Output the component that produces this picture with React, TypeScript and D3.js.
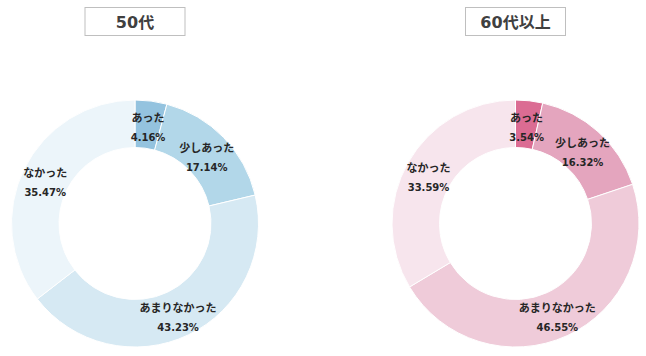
import React from "react";
import * as d3 from "d3";

const categories = ["あった", "少しあった", "あまりなかった", "なかった"];
const titles = ["50代", "60代以上"];
const values50 = [4.16, 17.14, 43.23, 35.47];
const values60 = [3.54, 16.32, 46.55, 33.59];
const colors50 = ["#94c3df", "#b2d7e9", "#d6e9f3", "#ecf5fa"];
const colors60 = ["#db6c93", "#e4a5be", "#efcbd9", "#f7e5ed"];

const W = 646;
const H = 356;
const FONT = "'DejaVu Sans', 'Noto Sans CJK JP', sans-serif";

type DonutProps = { cx: number; cy: number; title: string; values: number[]; colors: string[] };

function Donut({ cx, cy, title, values, colors }: DonutProps) {
  const outerR = 123.5;
  const innerR = 76;
  const pie = d3.pie<number>().sort(null).value((d) => d);
  const arcs = pie(values);
  const arc = d3.arc<d3.PieArcDatum<number>>().innerRadius(innerR).outerRadius(outerR);
  const labelArc = d3.arc<d3.PieArcDatum<number>>().innerRadius(100).outerRadius(100);
  return (
    <g>
      <rect x={cx - 50} y={7.5} width={100} height={28} fill="#fff" stroke="#bfbfbf" strokeWidth={1} />
      <text x={cx} y={27.5} textAnchor="middle" fontFamily={FONT} fontWeight="bold" fontSize={16} fill="#404040">
        {title}
      </text>
      <g transform={`translate(${cx},${cy})`}>
        {arcs.map((a, i) => (
          <path key={i} d={arc(a) || ""} fill={colors[i]} stroke="#fff" strokeWidth={1} />
        ))}
        {arcs.map((a, i) => {
          const [lx, ly] = labelArc.centroid(a);
          return (
            <g key={"l" + i} fontFamily={FONT} fontWeight="bold" fontSize={10} fill="#262626" textAnchor="middle">
              <text x={lx} y={ly - 2} fontSize={11}>{categories[i]}</text>
              <text x={lx} y={ly + 17}>{values[i].toFixed(2)}%</text>
            </g>
          );
        })}
      </g>
    </g>
  );
}

export default function App() {
  return (
    <svg width={W} height={H} style={{ position: "absolute", left: 0, top: 0, background: "#fff" }}>
      <rect width={W} height={H} fill="#fff" />
      <Donut cx={135} cy={223.5} title={titles[0]} values={values50} colors={colors50} />
      <Donut cx={515.5} cy={223.5} title={titles[1]} values={values60} colors={colors60} />
    </svg>
  );
}
